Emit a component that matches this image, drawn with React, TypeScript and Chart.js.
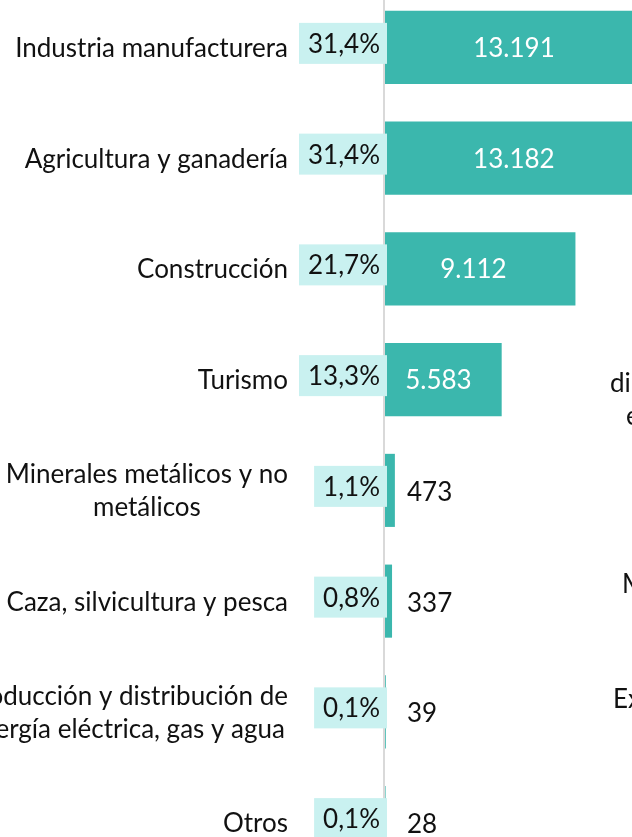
import React, { useEffect, useRef } from "react";
import { Chart, registerables } from "chart.js";

Chart.register(...registerables);

// ---- data ----
const categories: string[][] = [
  ["Industria manufacturera"],
  ["Agricultura y ganadería"],
  ["Construcción"],
  ["Turismo"],
  ["Minerales metálicos y no", "metálicos"],
  ["Caza, silvicultura y pesca"],
  ["Producción y distribución de", "energía eléctrica, gas y agua"],
  ["Otros"],
];
const values: number[] = [13191, 13182, 9112, 5583, 473, 337, 39, 28];
const valueLabels: string[] = ["13.191", "13.182", "9.112", "5.583", "473", "337", "39", "28"];
const shareLabels: string[] = ["31,4%", "31,4%", "21,7%", "13,3%", "1,1%", "0,8%", "0,1%", "0,1%"];
// clipped labels of the neighbouring chart visible at the right edge
const sideFragments: string[] = ["di", "e", "M", "Ex"];

// ---- layout (page px) ----
const PAGE_W = 632;
const PAGE_H = 837;
const OX = 200; // canvas shifted left
const OY = 30; // canvas shifted up
const CANVAS_W = 1000;
const CANVAS_H = 930;

const BAR_COLOR = "#3BB7AD";
const BOX_COLOR = "#C9F1F0";
const AXIS_COLOR = "#D9D9D9";
const TEXT_COLOR = "#111111";
const FONT_SIZE = 26;
const FONT = `${FONT_SIZE}px Lato`;

export default function App() {
  const ref = useRef<HTMLCanvasElement>(null);

  useEffect(() => {
    const canvas = ref.current;
    if (!canvas) return;

    const overlay = {
      id: "overlay",
      afterDatasetsDraw(chart: any) {
        const { ctx, chartArea } = chart;
        const meta = chart.getDatasetMeta(0);
        const base = chartArea.left;
        const capHalf = FONT_SIZE * 0.365;
        ctx.save();
        // vertical axis line
        ctx.fillStyle = AXIS_COLOR;
        ctx.fillRect(base - 2, 0, 2, chart.height);

        ctx.font = FONT;
        meta.data.forEach((bar: any, i: number) => {
          const { x, y } = bar.getProps(["x", "y"], true);
          // category labels (block right aligned, lines centered)
          const lines = categories[i];
          const widths = lines.map((l) => ctx.measureText(l).width);
          const maxW = Math.max(...widths);
          const labelRight = base - 97;
          const cx = labelRight - maxW / 2;
          const lh = 33;
          ctx.fillStyle = TEXT_COLOR;
          ctx.textAlign = "center";
          ctx.textBaseline = "alphabetic";
          lines.forEach((l, k) => {
            const ly = y + (k - (lines.length - 1) / 2) * lh + capHalf;
            ctx.fillText(l, cx, ly);
          });

          // share box
          const sw = ctx.measureText(shareLabels[i]).width;
          const boxRight = base + 2;
          const textRight = base - 5;
          const boxLeft = textRight - sw - 9;
          const by = y - 4;
          ctx.fillStyle = BOX_COLOR;
          ctx.fillRect(boxLeft, by - 20.5, boxRight - boxLeft, 41);
          ctx.fillStyle = TEXT_COLOR;
          ctx.textAlign = "right";
          ctx.fillText(shareLabels[i], textRight, by + capHalf);

          // value labels
          const w = x - base;
          if (w > 60) {
            ctx.fillStyle = "#FFFFFF";
            ctx.textAlign = "center";
            ctx.fillText(valueLabels[i], base + w / 2 - (2 + 0.025 * w), y + capHalf);
          } else {
            ctx.fillStyle = TEXT_COLOR;
            ctx.textAlign = "left";
            ctx.fillText(valueLabels[i], base + 22, y + capHalf + 1);
          }
        });

        // fragments of neighbouring chart
        const fragPos = [
          [610, 392],
          [626, 425],
          [622, 593],
          [613, 708],
        ];
        ctx.fillStyle = TEXT_COLOR;
        ctx.textAlign = "left";
        sideFragments.forEach((f, k) => {
          ctx.fillText(f, fragPos[k][0] + OX, fragPos[k][1] + OY);
        });
        ctx.restore();
      },
    };

    const chart = new Chart(canvas, {
      type: "bar",
      data: {
        labels: categories.map((c) => c.join(" ")),
        datasets: [
          {
            data: values,
            backgroundColor: BAR_COLOR,
            borderWidth: 0,
            categoryPercentage: 1,
            barPercentage: 0.66,
          },
        ],
      },
      options: {
        indexAxis: "y",
        responsive: false,
        animation: false,
        devicePixelRatio: 1,
        layout: {
          padding: { left: OX + 385, right: CANVAS_W - (OX + 385) - 300, top: 22, bottom: 22 },
        },
        plugins: {
          legend: { display: false },
          tooltip: { enabled: false },
          title: { display: false },
        },
        scales: {
          x: { display: false, min: 0, max: 14354 },
          y: { display: false },
        },
      },
      plugins: [overlay],
    });
    return () => chart.destroy();
  }, []);

  return (
    <div
      style={{
        position: "fixed",
        left: 0,
        top: 0,
        width: PAGE_W,
        height: PAGE_H,
        overflow: "hidden",
        background: "#FFFFFF",
      }}
    >
      <canvas
        ref={ref}
        width={CANVAS_W}
        height={CANVAS_H}
        style={{ position: "absolute", left: -OX, top: -OY, width: CANVAS_W, height: CANVAS_H }}
      />
    </div>
  );
}
